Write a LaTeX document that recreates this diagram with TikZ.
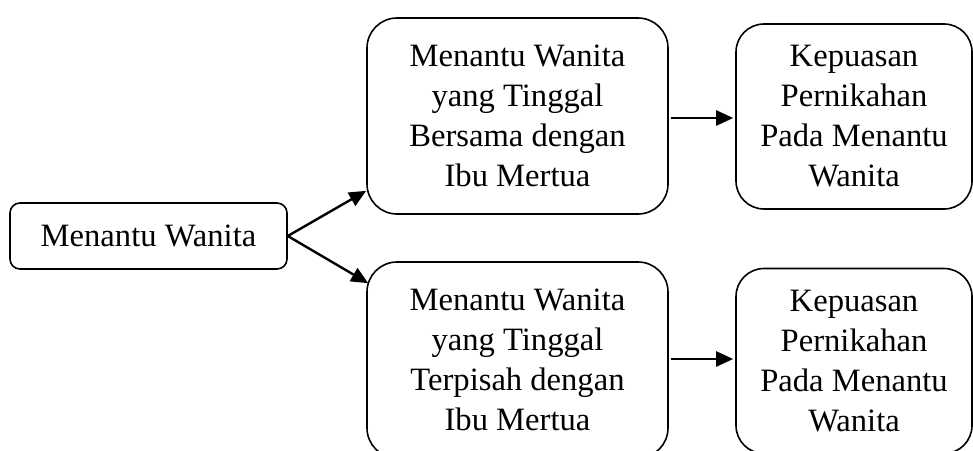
\documentclass[tikz,border=0pt]{standalone}
\usepackage{fontspec}
\setmainfont{Liberation Serif}
\usetikzlibrary{arrows.meta,calc}
\begin{document}
\begin{tikzpicture}[x=1pt,y=-1pt,
  box/.style={draw, line width=1.6pt, rounded corners=#1, inner sep=0pt, align=center,
    font=\fontsize{32.6}{40}\selectfont},
  tip/.style={line width=2.4pt, -{Triangle[length=17pt,width=15pt]}},
  conn/.style={tip, shorten >=2pt, shorten <=2pt}]
\useasboundingbox (0,0) rectangle (973,450);
\node[box=10pt, minimum width=277pt, minimum height=66pt] (L) at (148.5,236) {Menantu Wanita};
\node[box=30pt, minimum width=301pt, minimum height=196pt] (TM) at (517.5,116) {Menantu Wanita\\yang Tinggal\\Bersama dengan\\Ibu Mertua};
\node[box=30pt, minimum width=301pt, minimum height=196pt] (BM) at (517.5,360) {Menantu Wanita\\yang Tinggal\\Terpisah dengan\\Ibu Mertua};
\node[box=28pt, minimum width=236pt, minimum height=185pt] (TR) at (854,116.5) {Kepuasan\\Pernikahan\\Pada Menantu\\Wanita};
\node[box=28pt, minimum width=236pt, minimum height=185pt] (BR) at (854,361) {Kepuasan\\Pernikahan\\Pada Menantu\\Wanita};
\coordinate (tu) at ($(TM.south west)+(0,-24)$);
\coordinate (td) at ($(BM.north west)+(2,22)$);
\draw[tip] (L.east) -- (tu);
\draw[tip] (L.east) -- (td);
\draw[conn] (TM.east |- 0,118) -- (TR.west |- 0,118);
\draw[conn] (BM.east |- 0,359) -- (BR.west |- 0,359);
\end{tikzpicture}
\end{document}
